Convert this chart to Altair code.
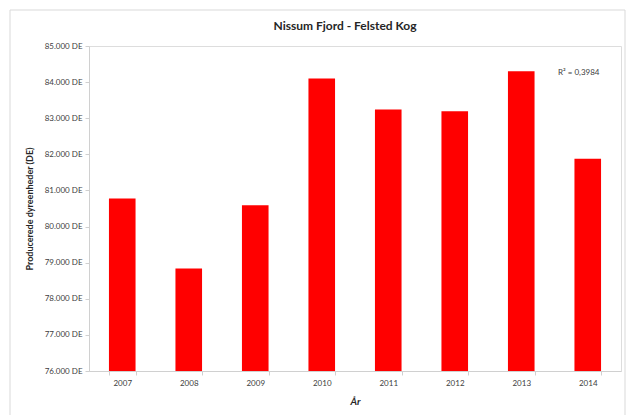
import altair as alt
import pandas as pd

years = ["2007", "2008", "2009", "2010", "2011", "2012", "2013", "2014"]
values = [80780, 78840, 80590, 84100, 83240, 83190, 84300, 81880]
y_ticks = [76000, 77000, 78000, 79000, 80000, 81000, 82000, 83000, 84000, 85000]
title_text = "Nissum Fjord - Felsted Kog"
y_title = "Producerede dyreenheder (DE)"
x_title = "År"
r2_text = "R² = 0,3984"

df = pd.DataFrame({"year": years, "value": values})

FONT = "Lato"

frame = alt.Chart(pd.DataFrame({"a": [0]})).mark_rect(
    fill="transparent", stroke="#d9d9d9", strokeWidth=1, clip=False
).encode(
    x=alt.value(-79), x2=alt.value(536), y=alt.value(-36), y2=alt.value(420)
)

title = alt.Chart(pd.DataFrame({"t": [title_text]})).mark_text(
    align="center", baseline="middle", font=FONT, fontSize=12, fontWeight="bold",
    color="#262626", clip=False
).encode(text="t:N", x=alt.value(256), y=alt.value(-20))

bars = alt.Chart(df).mark_bar(color="#ff0000", clip=True).encode(
    x=alt.X("year:N", sort=years,
            scale=alt.Scale(paddingInner=0.6, paddingOuter=0.3),
            axis=alt.Axis(title=x_title, labelAngle=0, tickBand="extent",
                          labelFont=FONT, labelFontSize=8, labelColor="#404040",
                          titleFont=FONT, titleFontSize=10, titleFontWeight="bold",
                          titleFontStyle="italic", titleColor="#262626",
                          domainColor="#d0d0d0", tickColor="#d0d0d0", tickSize=4,
                          labelPadding=4, titlePadding=9, grid=False)),
    y=alt.Y("value:Q",
            scale=alt.Scale(domain=[76000, 85000], nice=False, zero=False),
            axis=alt.Axis(title=y_title, values=y_ticks, labelOverlap=False,
                          labelExpr="replace(format(datum.value, ',.0f'), ',', '.') + ' DE'",
                          labelFont=FONT, labelFontSize=8, labelColor="#404040",
                          titleFont=FONT, titleFontSize=9, titleFontWeight="bold",
                          titleColor="#262626",
                          domainColor="#d0d0d0", tickColor="#d0d0d0", tickSize=4,
                          labelPadding=3, titlePadding=10, grid=False)),
)

r2 = alt.Chart(pd.DataFrame({"t": [r2_text]})).mark_text(
    align="left", baseline="middle", font=FONT, fontSize=8, color="#404040"
).encode(text="t:N", x=alt.value(469), y=alt.value(27))

chart = alt.layer(frame, title, bars, r2).properties(
    width=532, height=325,
    padding={"left": 81, "top": 38, "right": 5, "bottom": 60},
    autosize=alt.AutoSizeParams(type="none"),
).configure_view(strokeWidth=0, stroke="transparent").configure(background="white")

chart.save("out.html", embed_options={"renderer": "svg", "actions": False})
